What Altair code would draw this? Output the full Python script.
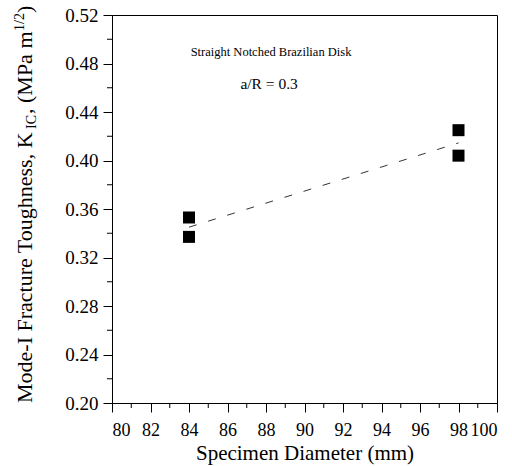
import altair as alt
import pandas as pd

# ---- data ----
diameter = [84, 84, 98, 98]
kic = [0.353, 0.337, 0.425, 0.404]

x_ticks = [80, 82, 84, 86, 88, 90, 92, 94, 96, 98, 100]
x_minor = [81, 83, 85, 87, 89, 91, 93, 95, 97, 99]
y_ticks = [0.20, 0.24, 0.28, 0.32, 0.36, 0.40, 0.44, 0.48, 0.52]
y_minor = [0.22, 0.26, 0.30, 0.34, 0.38, 0.42, 0.46, 0.50]

notes = ["Straight Notched Brazilian Disk", "a/R = 0.3"]
note_x = [88.26, 88.16]
note_y = [0.4895, 0.4631]

x_title = "Specimen Diameter (mm)"
y_title_parts = ["Mode-I Fracture Toughness, K", "IC", ", (MPa m", "1/2", ")"]

FONT = "Liberation Serif"
W, H = 385, 388
PAD_L, PAD_T = 112, 15

df = pd.DataFrame({"diameter": diameter, "kic": kic})
xscale = alt.Scale(domain=[80, 100], nice=False, zero=False)
yscale = alt.Scale(domain=[0.20, 0.52], nice=False, zero=False)

xaxis = alt.Axis(values=x_ticks, format="d", title=x_title)
yaxis = alt.Axis(values=y_ticks, format=".2f", title="")


def X():
    return alt.X("diameter:Q", scale=xscale, axis=xaxis)


def Y():
    return alt.Y("kic:Q", scale=yscale, axis=yaxis)


points = alt.Chart(df).mark_square(size=144, color="black", opacity=1).encode(x=X(), y=Y())

trend = alt.Chart(df).transform_regression("diameter", "kic").mark_line(
    color="black", strokeWidth=0.8, strokeDash=[8, 12]
).encode(x=X(), y=Y())

xminor = alt.Chart(pd.DataFrame({"diameter": x_minor})).mark_rule(
    color="black", strokeWidth=1
).encode(x=X(), y=alt.value(H), y2=alt.value(H + 5))

yminor = alt.Chart(pd.DataFrame({"kic": y_minor})).mark_rule(
    color="black", strokeWidth=1
).encode(y=Y(), x=alt.value(0), x2=alt.value(-5))

note1 = alt.Chart(pd.DataFrame({"diameter": [note_x[0]], "kic": [note_y[0]], "t": [notes[0]]})).mark_text(
    font=FONT, fontSize=12.5, color="black", align="center", baseline="middle"
).encode(x=X(), y=Y(), text="t:N")
note2 = alt.Chart(pd.DataFrame({"diameter": [note_x[1]], "kic": [note_y[1]], "t": [notes[1]]})).mark_text(
    font=FONT, fontSize=15.5, color="black", align="center", baseline="middle"
).encode(x=X(), y=Y(), text="t:N")

one = pd.DataFrame({"k": [0]})


def piece(text, size, page_x, page_y):
    return alt.Chart(one).mark_text(
        text=text, font=FONT, fontSize=size, angle=270, align="left",
        baseline="alphabetic", color="black"
    ).encode(x=alt.value(page_x - PAD_L), y=alt.value(page_y - PAD_T))


ytitle = [
    piece(y_title_parts[0], 22, 32, 403),
    piece(y_title_parts[1], 14, 36, 129),
    piece(y_title_parts[2], 22, 32, 114),
    piece(y_title_parts[3], 14, 24, 31),
    piece(y_title_parts[4], 22, 32, 13),
]

chart = alt.layer(points, trend, xminor, yminor, note1, note2, *ytitle).properties(
    width=W, height=H,
    background="white",
    autosize=alt.AutoSizeParams(type="none"),
    padding={"left": PAD_L, "top": PAD_T, "right": 512 - PAD_L - W, "bottom": 466 - PAD_T - H},
).configure_view(
    stroke="black", strokeWidth=1
).configure_axis(
    labelFont=FONT, titleFont=FONT, labelColor="black", titleColor="black",
    domainColor="black", tickColor="black", tickSize=9, grid=False,
    titleFontWeight="normal", labelFontWeight="normal"
).configure_axisX(
    labelFontSize=18, labelPadding=9, titleFontSize=21, titlePadding=3
).configure_axisY(
    labelFontSize=19, labelPadding=5
)

chart.save("out.html", embed_options={"renderer": "svg", "actions": False})
